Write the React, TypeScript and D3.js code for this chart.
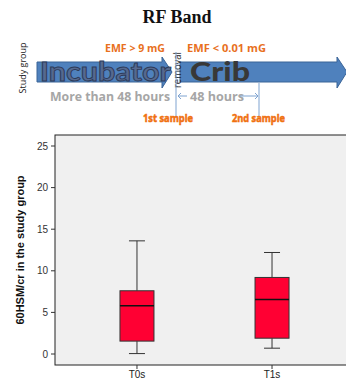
import React from "react";
import * as d3 from "d3";

const categories = ["T0s", "T1s"];
const whiskerLow = [0.05, 0.7];
const q1 = [1.55, 1.9];
const medians = [5.8, 6.55];
const q3 = [7.6, 9.2];
const whiskerHigh = [13.6, 12.2];
const yTicks = [0, 5, 10, 15, 20, 25];

const W = 346, H = 381;
const plot = { left: 55, top: 135, bottom: 365, right: 354 };

export default function App() {
  const y = d3.scaleLinear().domain([0, 25]).range([354, 146]);
  const x = d3.scalePoint().domain(categories).range([plot.left, plot.right]).padding(0.607);
  const bw = 34;
  const orange = "#E8701E";
  return (
    <svg width={W} height={H} style={{ position: "absolute", left: 0, top: 0 }}>
      <rect width={W} height={H} fill="#fff" />
      <text x={177} y={23} textAnchor="middle" fontFamily="Liberation Serif, serif" fontWeight="bold" fontSize={18} fill="#111">RF Band</text>

      {/* diagram */}
      <path d="M37,62 L162,62 L162,57 L172,72 L162,88 L162,82 L37,82 Z" fill="#4F81BD" stroke="#3A6497" strokeWidth={1} />
      <path d="M180,62 L337,62 L337,57 L347,72 L337,88 L337,82 L180,82 Z" fill="#4F81BD" stroke="#3A6497" strokeWidth={1} />
      <text x={26} y={68} transform="rotate(-90 26 68)" textAnchor="middle" fontFamily="Open Sans, sans-serif" fontSize={9} fill="#222">Study group</text>
      <text x={40} y={81} fontFamily="Lato, sans-serif" fontWeight="bold" fontSize={26} textLength={131} lengthAdjust="spacingAndGlyphs" fill="#56698F" stroke="#2D3B5A" strokeWidth={0.9}>Incubator</text>
      <text x={190} y={81} fontFamily="Lato, sans-serif" fontWeight="900" fontSize={27} textLength={60} lengthAdjust="spacingAndGlyphs" fill="#383838">Crib</text>
      <text x={105} y={52} fontFamily="Open Sans, sans-serif" fontWeight="bold" fontSize={11} textLength={60} lengthAdjust="spacingAndGlyphs" fill={orange}>EMF &gt; 9 mG</text>
      <text x={187} y={52} fontFamily="Open Sans, sans-serif" fontWeight="bold" fontSize={11} textLength={79} lengthAdjust="spacingAndGlyphs" fill={orange}>EMF  &lt; 0.01 mG</text>
      <text x={181} y={88} transform="rotate(-90 181 88)" fontFamily="Open Sans, sans-serif" fontSize={10} textLength={36} lengthAdjust="spacingAndGlyphs" fill="#222">removal</text>
      <line x1={176} y1={52} x2={176} y2={118} stroke="#7FA3D0" strokeWidth={1} />
      <line x1={259} y1={83} x2={259} y2={116} stroke="#7FA3D0" strokeWidth={1} />
      <text x={50} y={101} fontFamily="Open Sans, sans-serif" fontWeight="bold" fontSize={13} textLength={120} lengthAdjust="spacingAndGlyphs" fill="#A6A6A6">More than 48 hours</text>
      <text x={190} y={101} fontFamily="Open Sans, sans-serif" fontWeight="bold" fontSize={13} textLength={54} lengthAdjust="spacingAndGlyphs" fill="#A6A6A6">48 hours</text>
      <line x1={178} y1={96} x2={187} y2={96} stroke="#7FA3D0" strokeWidth={1} />
      <path d="M181,93 L178,96 L181,99" fill="none" stroke="#7FA3D0" strokeWidth={1} />
      <line x1={240} y1={96} x2={258} y2={96} stroke="#7FA3D0" strokeWidth={1} />
      <path d="M255,93 L258,96 L255,99" fill="none" stroke="#7FA3D0" strokeWidth={1} />
      <text x={143} y={122} fontFamily="Open Sans, sans-serif" fontWeight="bold" fontSize={10} textLength={50} lengthAdjust="spacingAndGlyphs" fill="#F07010" stroke="#F07010" strokeWidth={0.5}>1st sample</text>
      <text x={232} y={122} fontFamily="Open Sans, sans-serif" fontWeight="bold" fontSize={10} textLength={53} lengthAdjust="spacingAndGlyphs" fill="#F07010" stroke="#F07010" strokeWidth={0.5}>2nd sample</text>

      {/* chart */}
      <rect x={plot.left} y={plot.top} width={plot.right - plot.left} height={plot.bottom - plot.top} fill="#F0F0F0" stroke="#222" strokeWidth={1} />
      {yTicks.map((t) => (
        <g key={t}>
          <line x1={51} x2={plot.left} y1={y(t)} y2={y(t)} stroke="#333" />
          <text x={48} y={y(t) + 3.5} textAnchor="end" fontFamily="Liberation Sans, Arial, sans-serif" fontSize={10} fill="#333">{t}</text>
        </g>
      ))}
      <text x={24} y={250} transform="rotate(-90 24 250)" textAnchor="middle" fontFamily="Liberation Sans, Arial, sans-serif" fontWeight="bold" fontSize={11} fill="#111">60HSM/cr in the study group</text>
      {categories.map((c, i) => {
        const cx = x(c) as number;
        return (
          <g key={c}>
            <line x1={cx} x2={cx} y1={plot.bottom} y2={plot.bottom + 4} stroke="#333" />
            <text x={cx} y={378} textAnchor="middle" fontFamily="Liberation Sans, Arial, sans-serif" fontSize={10} fill="#222">{c}</text>
            <line x1={cx} x2={cx} y1={y(whiskerHigh[i])} y2={y(q3[i])} stroke="#333" strokeWidth={1} />
            <line x1={cx} x2={cx} y1={y(q1[i])} y2={y(whiskerLow[i])} stroke="#333" strokeWidth={1} />
            <line x1={cx - 8} x2={cx + 8} y1={y(whiskerHigh[i])} y2={y(whiskerHigh[i])} stroke="#333" strokeWidth={1} />
            <line x1={cx - 8} x2={cx + 8} y1={y(whiskerLow[i])} y2={y(whiskerLow[i])} stroke="#333" strokeWidth={1} />
            <rect x={cx - bw / 2} y={y(q3[i])} width={bw} height={y(q1[i]) - y(q3[i])} fill="#FF0033" stroke="#333" strokeWidth={1} />
            <line x1={cx - bw / 2} x2={cx + bw / 2} y1={y(medians[i])} y2={y(medians[i])} stroke="#111" strokeWidth={1.5} />
          </g>
        );
      })}
    </svg>
  );
}
